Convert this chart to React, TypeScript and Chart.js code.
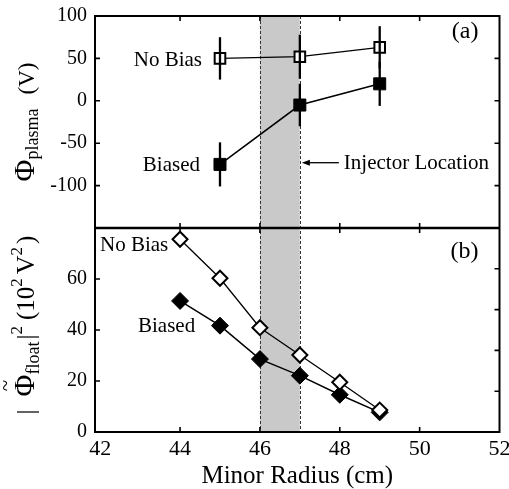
import React, { useEffect, useRef } from "react";
import { Chart, registerables } from "chart.js";

Chart.register(...registerables);

const FONT = '"Liberation Serif", "Times New Roman", serif';

// Panel (a): plasma potential
const radiusA = [45, 47, 49];
const noBiasA = [50, 52, 63];
const noBiasAErr = [25, 26, 25];
const biasedA = [-75, -5, 20];
const biasedAErr = [26, 25, 26];

// Panel (b): floating potential fluctuation power
const radiusB = [44, 45, 46, 47, 48, 49];
const noBiasB = [75.6, 60.3, 40.9, 30.2, 19.5, 8.6];
const biasedB = [51.4, 41.7, 28.6, 22.1, 14.6, 7.7];

const xTicks = [42, 44, 46, 48, 50, 52];
const yTicksA = [-100, -50, 0, 50, 100];
const yTicksB = [0, 20, 40, 60];
const yTicksBRight = [16, 32, 48, 64];
const injectorBand = [46, 47];

type Seg = { t?: string; size?: number; dy?: number; tilde?: boolean; gap?: number };

function drawRotatedRich(ctx: CanvasRenderingContext2D, baseX: number, centerY: number, segs: Seg[]) {
  ctx.save();
  let total = 0;
  const widths: number[] = [];
  for (const s of segs) {
    let w = s.gap || 0;
    if (s.t) {
      ctx.font = `${s.size}px ${FONT}`;
      w = ctx.measureText(s.t).width;
    }
    widths.push(w);
    total += w;
  }
  ctx.translate(baseX, centerY);
  ctx.rotate(-Math.PI / 2);
  ctx.fillStyle = "#000";
  ctx.textBaseline = "alphabetic";
  ctx.textAlign = "left";
  let x = -total / 2;
  segs.forEach((s, i) => {
    if (s.t) {
      ctx.font = `${s.size}px ${FONT}`;
      ctx.fillText(s.t, x, s.dy || 0);
      if (s.tilde) {
        ctx.font = `${Math.round((s.size || 20) * 0.7)}px ${FONT}`;
        ctx.textAlign = "center";
        ctx.fillText("~", x + widths[i] / 2, -(s.size || 20) * 0.72);
        ctx.textAlign = "left";
      }
    }
    x += widths[i];
  });
  ctx.restore();
}

const panelPlugin = {
  id: "panelDecor",
  beforeDatasetsDraw(chart: any) {
    const { ctx, chartArea, scales } = chart;
    const x0 = scales.x.getPixelForValue(injectorBand[0]);
    const x1 = scales.x.getPixelForValue(injectorBand[1]);
    ctx.save();
    ctx.fillStyle = "#c9c9c9";
    ctx.fillRect(x0, chartArea.top, x1 - x0, chartArea.bottom - chartArea.top);
    ctx.strokeStyle = "#333";
    ctx.lineWidth = 1;
    ctx.setLineDash([3, 2]);
    for (const px of [x0, x1]) {
      ctx.beginPath();
      ctx.moveTo(Math.round(px) + 0.5, chartArea.top);
      ctx.lineTo(Math.round(px) + 0.5, chartArea.bottom);
      ctx.stroke();
    }
    ctx.restore();
  },
  afterDatasetsDraw(chart: any) {
    const { ctx, scales } = chart;
    const ys = scales.yA;
    ctx.save();
    ctx.strokeStyle = "#000";
    ctx.lineWidth = 2.3;
    const bars = (vals: number[], errs: number[]) => {
      radiusA.forEach((r, i) => {
        const px = scales.x.getPixelForValue(r);
        ctx.beginPath();
        ctx.moveTo(px, ys.getPixelForValue(vals[i] + errs[i]));
        ctx.lineTo(px, ys.getPixelForValue(vals[i] - errs[i]));
        ctx.stroke();
      });
    };
    bars(noBiasA, noBiasAErr);
    bars(biasedA, biasedAErr);
    ctx.restore();
  },
  afterDraw(chart: any) {
    const { ctx, chartArea, scales } = chart;
    const { left, right, top, bottom } = chartArea;
    const xs = scales.x;
    const yA = scales.yA;
    const yB = scales.yB;
    const mid = yA.bottom;
    const T = 5;
    ctx.save();
    ctx.strokeStyle = "#000";
    ctx.lineWidth = 2;
    ctx.strokeRect(left, top, right - left, bottom - top);
    ctx.lineWidth = 2.5;
    ctx.beginPath();
    ctx.moveTo(left, mid);
    ctx.lineTo(right, mid);
    ctx.stroke();

    // tick marks
    ctx.lineWidth = 1.6;
    ctx.beginPath();
    xTicks.forEach((v) => {
      if (v <= xs.min + 0.2 || v >= xs.max - 0.2) return;
      const px = xs.getPixelForValue(v);
      ctx.moveTo(px, top); ctx.lineTo(px, top + T);
      ctx.moveTo(px, mid - T); ctx.lineTo(px, mid + T);
      ctx.moveTo(px, bottom); ctx.lineTo(px, bottom - T);
    });
    yTicksA.forEach((v) => {
      if (v >= yA.max || v <= yA.min) return;
      const py = yA.getPixelForValue(v);
      ctx.moveTo(left, py); ctx.lineTo(left + T, py);
      ctx.moveTo(right, py); ctx.lineTo(right - T, py);
    });
    yTicksB.forEach((v) => {
      if (v >= yB.max || v <= yB.min) return;
      const py = yB.getPixelForValue(v);
      ctx.moveTo(left, py); ctx.lineTo(left + T, py);
    });
    yTicksBRight.forEach((v) => {
      const py = yB.getPixelForValue(v);
      ctx.moveTo(right, py); ctx.lineTo(right - T, py);
    });
    ctx.stroke();

    // annotations
    ctx.fillStyle = "#000";
    ctx.textBaseline = "middle";
    ctx.font = `21px ${FONT}`;
    const x45 = xs.getPixelForValue(45);
    const x47 = xs.getPixelForValue(47);
    ctx.textAlign = "right";
    ctx.fillText("No Bias", x45 - 18, yA.getPixelForValue(noBiasA[0]) + 2);
    ctx.fillText("Biased", x45 - 20, yA.getPixelForValue(biasedA[0]) + 1);
    ctx.textAlign = "left";
    const yArrow = yA.getPixelForValue(-73);
    ctx.fillText("Injector Location", x47 + 44, yArrow + 1);
    ctx.lineWidth = 1.3;
    ctx.beginPath();
    ctx.moveTo(x47 + 39, yArrow);
    ctx.lineTo(x47 + 8, yArrow);
    ctx.stroke();
    ctx.beginPath();
    ctx.moveTo(x47 + 2, yArrow);
    ctx.lineTo(x47 + 10, yArrow - 3);
    ctx.lineTo(x47 + 10, yArrow + 3);
    ctx.closePath();
    ctx.fill();

    ctx.textAlign = "left";
    ctx.fillText("No Bias", left + 5, yB.top + 17);
    ctx.fillText("Biased", left + 43, yB.getPixelForValue(41.5));

    ctx.font = `24px ${FONT}`;
    ctx.textAlign = "right";
    ctx.fillText("(a)", right - 21, top + 16);
    ctx.fillText("(b)", right - 21, yB.top + 24);

    // y axis titles
    drawRotatedRich(ctx, 34, (yA.top + yA.bottom) / 2, [
      { t: "\u03A6", size: 30 },
      { t: "plasma", size: 18, dy: 4 },
      { gap: 14 },
      { t: "(V)", size: 23 },
    ]);
    drawRotatedRich(ctx, 34, (yB.top + yB.bottom) / 2 - 5, [
      { t: "|", size: 25 },
      { gap: 13 },
      { t: "\u03A6", size: 30, tilde: true },
      { t: "float", size: 18, dy: 5 },
      { gap: 2 },
      { t: "|", size: 25 },
      { t: "2", size: 17, dy: -12 },
      { gap: 6 },
      { t: "(10", size: 25 },
      { t: "2", size: 17, dy: -12 },
      { gap: 4 },
      { t: "V", size: 26 },
      { t: "2", size: 17, dy: -12 },
      { gap: 3 },
      { t: ")", size: 25 },
    ]);
    ctx.restore();
  },
};

export default function App() {
  const ref = useRef<HTMLCanvasElement | null>(null);
  useEffect(() => {
    if (!ref.current) return;
    const tickFont = { family: FONT, size: 20 };
    const noYPad = (s: any) => {
      s.width = 95;
      s.paddingTop = 0;
      s.paddingBottom = 0;
    };
    const chart = new Chart(ref.current, {
      type: "scatter",
      data: {
        datasets: [
          {
            label: "No Bias (a)",
            data: radiusA.map((x, i) => ({ x, y: noBiasA[i] })),
            yAxisID: "yA",
            showLine: true,
            borderColor: "#000",
            borderWidth: 1.3,
            pointStyle: "rect",
            pointRadius: 7.5,
            pointBackgroundColor: "#fff",
            pointBorderColor: "#000",
            pointBorderWidth: 2,
          },
          {
            label: "Biased (a)",
            data: radiusA.map((x, i) => ({ x, y: biasedA[i] })),
            yAxisID: "yA",
            showLine: true,
            borderColor: "#000",
            borderWidth: 1.5,
            pointStyle: "rect",
            pointRadius: 8.5,
            pointBackgroundColor: "#000",
            pointBorderColor: "#000",
            pointBorderWidth: 1,
          },
          {
            label: "No Bias (b)",
            data: radiusB.map((x, i) => ({ x, y: noBiasB[i] })),
            yAxisID: "yB",
            showLine: true,
            borderColor: "#000",
            borderWidth: 1.3,
            pointStyle: "rectRot",
            pointRadius: 7.5,
            pointBackgroundColor: "#fff",
            pointBorderColor: "#000",
            pointBorderWidth: 2,
          },
          {
            label: "Biased (b)",
            data: radiusB.map((x, i) => ({ x, y: biasedB[i] })),
            yAxisID: "yB",
            showLine: true,
            borderColor: "#000",
            borderWidth: 1.5,
            pointStyle: "rectRot",
            pointRadius: 8.5,
            pointBackgroundColor: "#000",
            pointBorderColor: "#000",
            pointBorderWidth: 1,
          },
        ],
      },
      options: {
        animation: false,
        responsive: true,
        maintainAspectRatio: false,
        events: [],
        layout: { padding: { top: 16, right: 8, left: 0, bottom: 0 } },
        plugins: { legend: { display: false }, tooltip: { enabled: false } },
        scales: {
          x: {
            type: "linear",
            position: "bottom",
            min: 41.87,
            max: 52,
            afterBuildTicks: (s: any) => {
              s.ticks = xTicks.map((v) => ({ value: v }));
            },
            afterFit: (s: any) => {
              s.height = 57;
              s.paddingLeft = 0;
              s.paddingRight = 0;
            },
            grid: { display: false, drawTicks: false },
            border: { display: false },
            ticks: { color: "#000", font: { family: FONT, size: 22 }, padding: 4, autoSkip: false, maxRotation: 0 },
            title: {
              display: true,
              text: "Minor Radius (cm)",
              color: "#000",
              font: { family: FONT, size: 25, lineHeight: 1 },
              padding: { top: 0, bottom: 0 },
            },
          },
          yB: {
            type: "linear",
            position: "left",
            stack: "panels",
            stackWeight: 204,
            weight: 1,
            min: 0,
            max: 80,
            afterBuildTicks: (s: any) => {
              s.ticks = yTicksB.map((v) => ({ value: v }));
            },
            afterFit: noYPad,
            grid: { display: false, drawTicks: false },
            border: { display: false },
            ticks: { color: "#000", font: tickFont, padding: 8, autoSkip: false },
          },
          yA: {
            type: "linear",
            position: "left",
            stack: "panels",
            stackWeight: 212,
            weight: 2,
            min: -150,
            max: 100,
            afterBuildTicks: (s: any) => {
              s.ticks = yTicksA.map((v) => ({ value: v }));
            },
            afterFit: noYPad,
            grid: { display: false, drawTicks: false },
            border: { display: false },
            ticks: { color: "#000", font: tickFont, padding: 8, autoSkip: false },
          },
        },
      } as any,
      plugins: [panelPlugin as any],
    });
    return () => chart.destroy();
  }, []);
  return (
    <div style={{ position: "fixed", left: 0, top: 0, width: 509, height: 489, background: "#fff" }}>
      <canvas ref={ref} />
    </div>
  );
}
